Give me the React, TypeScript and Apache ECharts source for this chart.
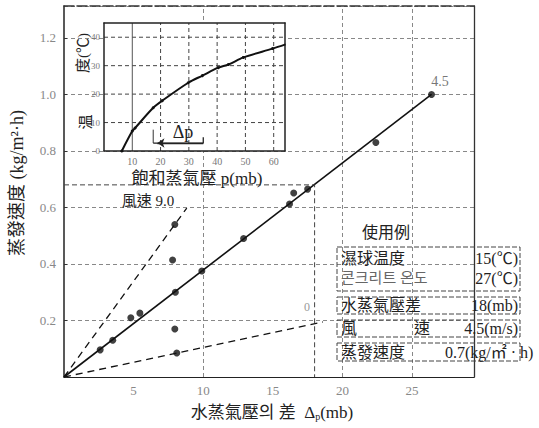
import { useEffect, useRef } from "react";
import * as echarts from "echarts";

// ---- main chart data ----
const solidLineX = [0, 26.4];
const solidLineY = [0, 1.0];
const wind9LineX = [0, 8.82];
const wind9LineY = [0, 0.598];
const wind0LineX = [0, 18.6];
const wind0LineY = [0, 0.195];
const pointsX = [2.6, 3.5, 4.8, 5.45, 8.0, 9.9, 12.9, 16.2, 16.5, 17.5, 22.4, 26.4, 7.96, 7.8, 7.96, 8.1];
const pointsY = [0.096, 0.13, 0.21, 0.226, 0.3, 0.375, 0.49, 0.612, 0.651, 0.665, 0.83, 1.0, 0.54, 0.414, 0.17, 0.085];
const exampleDp = 18;
const exampleRate = 0.68;
const gridXValues = [10, 20, 25];
const mainXMax = 29.45;
const mainYMax = 1.313;

// ---- inset (saturation vapour pressure) data ----
const curveP = [6.3, 10, 11, 17.4, 20.6, 29.8, 34.8, 40.4, 44, 49.3, 59.6, 64.2];
const curveT = [0, 7, 8.1, 15.2, 17.7, 24, 26.5, 29.3, 30.4, 32.9, 36, 37.5];
const insetXMax = 64;
const insetYMax = 45;
const insetGridP = [20, 30, 40, 50, 60];
const insetGridT = [10, 20, 30, 40];
const insetSolidGridP = 10;
const deltaPStart = 17.4;
const deltaPEnd = 35.1;
const deltaPLevel = 2.8;
const deltaPTop = 7.5;

// ---- labels ----
const legendTitle = "使用例";
const legendLabels = ["濕球温度", "콘크리트 온도", "水蒸氣壓差", "風", "蒸發速度"];
const legendValues = ["15(℃)", "27(℃)", "18(mb)", "4.5(m/s)", "0.7(kg/㎡ · h)"];

const SERIF = "'Liberation Serif', 'Noto Sans CJK TC', 'Noto Sans CJK KR', serif";

// layout of the two plotting areas (pixels)
const MAIN = { left: 64, top: 6, width: 410, height: 371 };
const INSET = { left: 104, top: 23, width: 181, height: 128 };

export default function App() {
  const ref = useRef<HTMLDivElement>(null);
  useEffect(() => {
    if (!ref.current) return;
    const chart = echarts.init(ref.current, null, { renderer: "svg" });
    const zip = (xs: number[], ys: number[]) => xs.map((x, i) => [x, ys[i]]);
    const txt = (text: string, x: number, y: number, size: number, extra: any = {}, rotation = 0) => ({
      type: "text",
      x,
      y,
      z: 20,
      rotation,
      style: {
        text,
        fontSize: size,
        fontFamily: SERIF,
        fill: "#222",
        textVerticalAlign: "middle",
        ...extra,
      },
    });
    const box = (y: number, h: number) => ({
      type: "rect", z: 20,
      shape: { x: 337, y, width: 183, height: h },
      style: { fill: "none", stroke: "#444", lineWidth: 1, lineDash: [5, 2] },
    });
    const legendGraphics: any[] = [
      txt(legendTitle, 386, 232, 16, { textAlign: "center" }),
      box(247, 44),
      box(297, 17),
      box(320, 17),
      box(343, 18),
      txt(legendLabels[0], 341, 258, 16),
      txt(legendValues[0], 518, 258, 16, { textAlign: "right" }),
      txt(legendLabels[1], 341, 278, 15, { fill: "#666" }),
      txt(legendValues[1], 518, 278, 16, { textAlign: "right" }),
      txt(legendLabels[2], 341, 305, 16),
      txt(legendValues[2], 518, 305, 16, { textAlign: "right" }),
      txt(legendLabels[3], 341, 328, 16),
      txt("速", 414, 328, 16),
      txt(legendValues[3], 518, 328, 16, { textAlign: "right" }),
      txt(legendLabels[4], 341, 352, 16),
      txt(legendValues[4], 445, 352, 16),
    ];
    const insetGridSeries: any[] = [
      ...insetGridP.map((v) => [[v, 0], [v, insetYMax]]),
      ...insetGridT.map((v) => [[0, v], [insetXMax, v]]),
    ].map((d) => ({
      type: "line", xAxisIndex: 1, yAxisIndex: 1, z: 3, symbol: "none", silent: true,
      data: d,
      lineStyle: { color: "#444", width: 1, type: [4, 3] },
    }));
    chart.setOption({
      animation: false,
      backgroundColor: "#fff",
      textStyle: { fontFamily: SERIF },
      grid: [
        { ...MAIN, show: false },
        { ...INSET, show: false },
      ],
      xAxis: [
        {
          type: "value", gridIndex: 0, min: 0, max: mainXMax, interval: 5, z: 0,
          axisLine: { onZero: false, lineStyle: { color: "#222", width: 1.2 } },
          axisTick: { show: false },
          splitLine: { show: false },
          axisLabel: { color: "#888", fontSize: 13, margin: 7, fontFamily: SERIF, showMaxLabel: false, formatter: (v: number) => (v === 0 ? "" : String(v)) },
        },
        {
          type: "value", gridIndex: 1, min: 0, max: insetXMax, interval: 10, z: 4,
          axisLine: { show: true, onZero: false, lineStyle: { color: "#222", width: 1.5 } },
          axisTick: { show: false },
          splitLine: { show: false },
          axisLabel: { color: "#777", fontSize: 10, margin: 5, fontFamily: SERIF, showMaxLabel: false, formatter: (v: number) => (v === 0 ? "" : String(v)) },
        },
        {
          type: "value", gridIndex: 1, min: 0, max: insetXMax, position: "top", z: 4,
          axisLine: { show: true, onZero: false, lineStyle: { color: "#222", width: 1.5 } },
          axisTick: { show: false }, axisLabel: { show: false }, splitLine: { show: false },
        },
        {
          type: "value", gridIndex: 0, min: 0, max: mainXMax, position: "top", z: 0,
          axisLine: { show: true, onZero: false, lineStyle: { color: "#333", width: 1.5, type: [10, 3] } },
          axisTick: { show: false }, axisLabel: { show: false }, splitLine: { show: false },
        },
      ],
      yAxis: [
        {
          type: "value", gridIndex: 0, min: 0, max: mainYMax, interval: 0.2, z: 0,
          axisLine: { show: true, onZero: false, lineStyle: { color: "#222", width: 1.5 } },
          axisTick: { show: true, inside: true, length: 3, lineStyle: { color: "#333" } },
          splitLine: { show: true, lineStyle: { color: "#888", width: 1, type: [4, 3] } },
          axisLabel: { color: "#888", fontSize: 13, margin: 8, fontFamily: SERIF, showMaxLabel: false, formatter: (v: number) => (v === 0 ? "" : v.toFixed(1)) },
        },
        {
          type: "value", gridIndex: 1, min: 0, max: insetYMax, interval: 10, z: 4,
          axisLine: { show: true, onZero: false, lineStyle: { color: "#222", width: 1.5 } },
          axisTick: { show: false },
          splitLine: { show: false },
          axisLabel: { color: "#777", fontSize: 9, margin: 4, fontFamily: SERIF, showMaxLabel: false },
        },
        {
          type: "value", gridIndex: 1, min: 0, max: insetYMax, position: "right", z: 4,
          axisLine: { show: true, onZero: false, lineStyle: { color: "#222", width: 1.5 } },
          axisTick: { show: false }, axisLabel: { show: false }, splitLine: { show: false },
        },
        {
          type: "value", gridIndex: 0, min: 0, max: mainYMax, position: "right", z: 0,
          axisLine: { show: true, onZero: false, lineStyle: { color: "#333", width: 1.3 } },
          axisTick: { show: false }, axisLabel: { show: false }, splitLine: { show: false },
        },
      ],
      series: [
        {
          type: "line", xAxisIndex: 0, yAxisIndex: 0, data: zip(solidLineX, solidLineY), symbol: "none",
          lineStyle: { color: "#111", width: 1.6 },
          markLine: {
            silent: true, z: 0, symbol: "none", label: { show: false },
            lineStyle: { color: "#888", width: 1, type: [4, 3] },
            data: gridXValues.map((v) => ({ xAxis: v })),
          },
        },
        { type: "line", xAxisIndex: 0, yAxisIndex: 0, data: zip(wind9LineX, wind9LineY), symbol: "none", lineStyle: { color: "#111", width: 1.3, type: [7, 5] } },
        { type: "line", xAxisIndex: 0, yAxisIndex: 0, data: zip(wind0LineX, wind0LineY), symbol: "none", lineStyle: { color: "#111", width: 1.3, type: [7, 5] } },
        {
          type: "line", xAxisIndex: 0, yAxisIndex: 0, symbol: "none",
          data: [[0, exampleRate], [exampleDp, exampleRate], [exampleDp, 0]],
          lineStyle: { color: "#444", width: 1, type: [5, 3] },
        },
        { type: "scatter", xAxisIndex: 0, yAxisIndex: 0, data: zip(pointsX, pointsY), symbolSize: 7, itemStyle: { color: "#111" }, z: 5 },
        ...insetGridSeries,
        {
          type: "line", xAxisIndex: 1, yAxisIndex: 1, z: 3, symbol: "none", silent: true,
          data: [[insetSolidGridP, 0], [insetSolidGridP, insetYMax]],
          lineStyle: { color: "#555", width: 1 },
        },
        {
          type: "line", xAxisIndex: 1, yAxisIndex: 1, data: zip(curveP, curveT), smooth: 0.3, z: 6,
          symbol: "circle", symbolSize: 3, showSymbol: true, itemStyle: { color: "#111" },
          lineStyle: { color: "#111", width: 2 },
        },
        {
          type: "line", xAxisIndex: 1, yAxisIndex: 1, z: 6, symbol: "none",
          data: [[deltaPStart, deltaPTop], [deltaPStart, deltaPLevel]],
          lineStyle: { color: "#333", width: 1 },
          markLine: {
            silent: true, z: 7, symbol: ["none", "arrow"], symbolSize: 7, label: { show: false },
            lineStyle: { color: "#222", width: 1.3, type: "solid" },
            data: [[{ coord: [deltaPEnd, deltaPLevel] }, { coord: [deltaPStart + 1.5, deltaPLevel] }]],
          },
        },
        {
          type: "line", xAxisIndex: 1, yAxisIndex: 1, z: 6, symbol: "none",
          data: [[deltaPStart, deltaPLevel], [deltaPEnd, deltaPLevel], [deltaPEnd, deltaPLevel + 2]],
          lineStyle: { color: "#222", width: 1.3 },
        },
      ],
      graphic: [
        { type: "rect", z: 1, shape: { x: INSET.left, y: INSET.top, width: INSET.width, height: INSET.height }, style: { fill: "#fff" } },
        txt("蒸發速度 (kg/m²·h)", 17, 183, 18, { textAlign: "center" }, Math.PI / 2),
        {
          type: "text", x: 272, y: 410, z: 20,
          style: {
            text: "{a|水蒸氣壓의 差  Δ}{s|p}{a|(mb)}",
            textAlign: "center", textVerticalAlign: "middle",
            rich: {
              a: { fontSize: 17, fontFamily: SERIF, fill: "#222", lineHeight: 22, verticalAlign: "bottom" },
              s: { fontSize: 10, fontFamily: SERIF, fill: "#222", lineHeight: 22, verticalAlign: "bottom", padding: [6, 0, 0, 0] },
            },
          },
        },
        txt("飽和蒸氣壓 p(mb)", 197, 178, 17, { textAlign: "center" }),
        txt("風速 9.0", 148, 201, 15, { textAlign: "center" }),
        txt("4.5", 440, 81, 14, { textAlign: "center", fill: "#777" }),
        txt("0", 307, 307, 12, { textAlign: "center", fill: "#999" }),
        txt("Δp", 183, 132, 18, { textAlign: "center" }),
        txt("度(℃)", 83, 53, 15, { textAlign: "center" }, Math.PI / 2),
        txt("温", 86, 122, 15, { textAlign: "center" }, Math.PI / 2),
        ...legendGraphics,
      ],
    });
    return () => chart.dispose();
  }, []);
  return <div ref={ref} style={{ position: "fixed", left: 0, top: 0, width: 539, height: 428, background: "#fff" }} />;
}
